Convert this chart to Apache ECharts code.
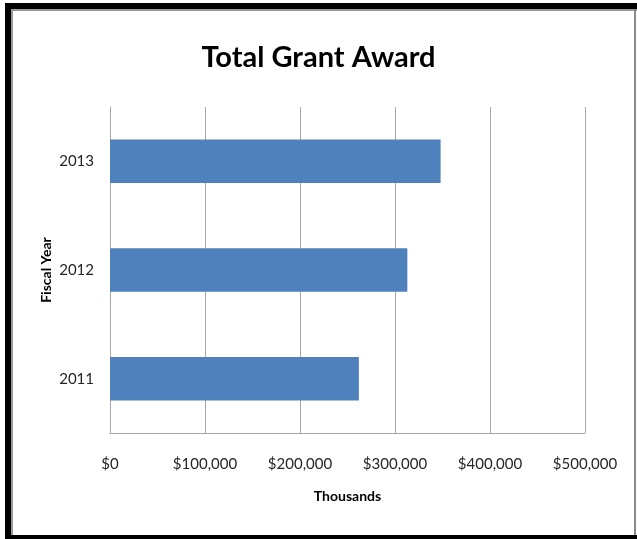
<!DOCTYPE html>
<html>
<head>
<meta charset="utf-8">
<script src="https://cdn.jsdelivr.net/npm/echarts@6/dist/echarts.min.js"></script>
<style>
  html, body { margin: 0; padding: 0; background: #ffffff; }
  #chart { width: 637px; height: 539px; }
</style>
</head>
<body>
<div id="chart"></div>
<script>
// Fiscal years (bottom to top) and total grant award values in dollars
const years = ['2011', '2012', '2013'];
const awards = [262000, 313000, 348000];
const xTicks = [0, 100000, 200000, 300000, 400000, 500000];

const fmt = v => '$' + v.toLocaleString('en-US');

const chart = echarts.init(document.getElementById('chart'), null, { renderer: 'canvas' });

chart.setOption({
  backgroundColor: '#ffffff',
  animation: false,
  title: {
    text: 'Total Grant Award',
    left: 'center',
    top: 38,
    textStyle: { fontFamily: 'Lato', fontWeight: 'bold', fontSize: 29, color: '#000000' }
  },
  grid: { left: 110, right: 52, top: 107, bottom: 106, containLabel: false },
  xAxis: {
    type: 'value',
    min: xTicks[0],
    max: xTicks[xTicks.length - 1],
    interval: xTicks[1] - xTicks[0],
    name: 'Thousands',
    nameLocation: 'middle',
    nameGap: 56,
    nameTextStyle: { fontFamily: 'Lato', fontWeight: 'bold', fontSize: 14, color: '#000000' },
    axisLine: { show: true, lineStyle: { color: '#a6a6a6', width: 1 } },
    axisTick: { show: false },
    axisLabel: { formatter: fmt, margin: 24, fontFamily: 'Lato', fontSize: 15, color: '#262626' },
    splitLine: { show: true, lineStyle: { color: '#a6a6a6', width: 1 } }
  },
  yAxis: {
    type: 'category',
    data: years,
    name: 'Fiscal Year',
    nameLocation: 'middle',
    nameGap: 57,
    nameMoveOverlap: false,
    nameRotate: 90,
    nameTextStyle: { fontFamily: 'Lato', fontWeight: 'bold', fontSize: 14, color: '#000000' },
    axisLine: { show: true, lineStyle: { color: '#a6a6a6', width: 1 } },
    axisTick: { show: false },
    axisLabel: { margin: 16, fontFamily: 'Lato', fontSize: 15, color: '#262626' }
  },
  series: [{
    type: 'bar',
    data: awards,
    barCategoryGap: '60%',
    itemStyle: { color: '#4f81bd' }
  }],
  graphic: [
    // frame around the chart
    { type: 'rect', shape: { x: 5, y: 3, width: 6, height: 536 }, style: { fill: '#000000' }, silent: true },
    { type: 'rect', shape: { x: 5, y: 3, width: 632, height: 6 }, style: { fill: '#000000' }, silent: true },
    { type: 'rect', shape: { x: 11, y: 9, width: 626, height: 2 }, style: { fill: '#9a9a9a' }, silent: true },
    { type: 'rect', shape: { x: 11, y: 9, width: 2, height: 526 }, style: { fill: '#9a9a9a' }, silent: true },
    { type: 'rect', shape: { x: 5, y: 535, width: 632, height: 4 }, style: { fill: '#000000' }, silent: true },
    { type: 'rect', shape: { x: 634, y: 9, width: 2, height: 526 }, style: { fill: '#8a8a8a' }, silent: true }
  ]
});
</script>
</body>
</html>
